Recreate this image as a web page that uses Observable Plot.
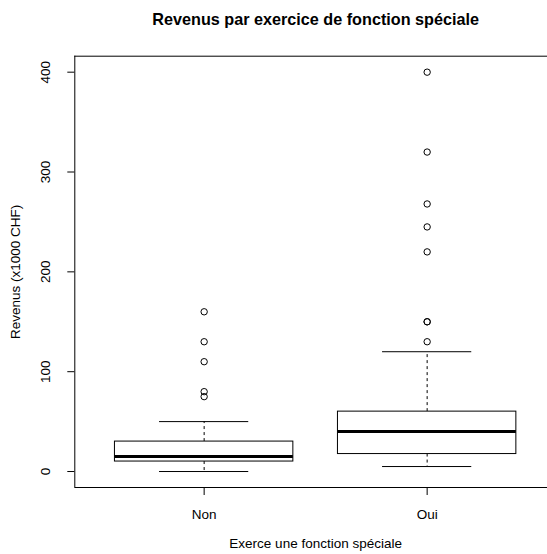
<!DOCTYPE html>
<html>
<head>
<meta charset="utf-8">
<script src="https://cdn.jsdelivr.net/npm/d3@7"></script>
<script src="https://cdn.jsdelivr.net/npm/@observablehq/plot@0.6"></script>
<style>
  html, body { margin: 0; padding: 0; background: #fff; overflow: hidden; }
  #chart { width: 547px; height: 554px; }
</style>
</head>
<body>
<div id="chart"></div>
<script>
// ---- data ----
const groups = ["Non", "Oui"];
const positions = [1, 2];
const lowerWhisker = [0, 5];
const q1 = [10, 17.5];
const median = [15, 40];
const q3 = [30, 60];
const upperWhisker = [50, 120];
const outliersNon = [160, 130, 110, 80, 75];
const outliersOui = [400, 320, 268, 245, 220, 150, 150, 130];
const yTicks = [0, 100, 200, 300, 400];
const title = "Revenus par exercice de fonction spéciale";
const xTitle = "Exerce une fonction spéciale";
const yTitle = "Revenus (x1000 CHF)";

// ---- derived tables ----
const boxes = groups.map((g, i) => ({
  group: g, pos: positions[i], lo: lowerWhisker[i], q1: q1[i],
  med: median[i], q3: q3[i], hi: upperWhisker[i]
}));
const outliers = [
  ...outliersNon.map(v => ({pos: 1, v})),
  ...outliersOui.map(v => ({pos: 2, v}))
];
const xDomain = [0.42, 2.58];
const yDomain = [-16, 416];
const boxHalf = 0.4, capHalf = 0.2;

const W = 547, H = 554;
const mL = 74.3, mT = 55.7, mB = H - 487;
const font = "Liberation Sans, Arial, Helvetica, sans-serif";

const plot = Plot.plot({
  width: W,
  height: H,
  marginLeft: mL,
  marginRight: 0,
  marginTop: mT,
  marginBottom: mB,
  style: {fontFamily: font, background: "#fff", color: "#000"},
  x: {type: "linear", domain: xDomain, range: [mL, 556], axis: null},
  y: {domain: yDomain, axis: null},
  marks: [
    // frame (right edge lies outside the visible area, as in the reference)
    Plot.ruleX([xDomain[0]], {y1: yDomain[0], y2: yDomain[1], stroke: "#000", strokeWidth: 1}),
    Plot.ruleY([yDomain[0], yDomain[1]], {x1: () => xDomain[0], x2: () => xDomain[1], stroke: "#000", strokeWidth: 1}),
    // axes
    Plot.axisX({ticks: positions, tickSize: 8, tickPadding: 14, fontSize: 13.5,
      tickFormat: d => groups[positions.indexOf(d)], label: null, stroke: "#000"}),
    Plot.axisY({ticks: yTicks, tickSize: 7, tickFormat: () => "", label: null, stroke: "#000"}),
    // whiskers (dashed)
    Plot.ruleX(boxes, {x: "pos", y1: "q3", y2: "hi", stroke: "#000", strokeDasharray: "3,3"}),
    Plot.ruleX(boxes, {x: "pos", y1: "q1", y2: "lo", stroke: "#000", strokeDasharray: "3,3"}),
    // caps
    Plot.ruleY(boxes, {y: "hi", x1: d => d.pos - capHalf, x2: d => d.pos + capHalf, stroke: "#000"}),
    Plot.ruleY(boxes, {y: "lo", x1: d => d.pos - capHalf, x2: d => d.pos + capHalf, stroke: "#000"}),
    // boxes
    Plot.rect(boxes, {x1: d => d.pos - boxHalf, x2: d => d.pos + boxHalf, y1: "q1", y2: "q3",
      fill: "#fff", stroke: "#000", strokeWidth: 1}),
    // medians
    Plot.ruleY(boxes, {y: "med", x1: d => d.pos - boxHalf, x2: d => d.pos + boxHalf,
      stroke: "#000", strokeWidth: 3}),
    // outliers
    Plot.dot(outliers, {x: "pos", y: "v", r: 3.2, stroke: "#000", strokeWidth: 1, fill: "none"}),
    // y tick labels (rotated, R style)
    Plot.text(yTicks, {y: d => d, text: d => String(d), frameAnchor: "left", dx: -25,
      rotate: -90, textAnchor: "middle", lineAnchor: "bottom", fontSize: 13.5, fill: "#000"}),
    // titles
    Plot.text([title], {x: [1.5], text: d => d, frameAnchor: "top", dy: -31, lineAnchor: "bottom",
      fontSize: 16.2, fontWeight: "bold", fill: "#000"}),
    Plot.text([xTitle], {x: [1.5], text: d => d, frameAnchor: "bottom", dy: 60, lineAnchor: "bottom",
      fontSize: 13.5, fill: "#000"}),
    Plot.text([yTitle], {y: [200], text: d => d, frameAnchor: "left", dx: -55,
      rotate: -90, textAnchor: "middle", lineAnchor: "bottom", fontSize: 13.5, fill: "#000"})
  ]
});
document.getElementById("chart").appendChild(plot);
</script>
</body>
</html>
